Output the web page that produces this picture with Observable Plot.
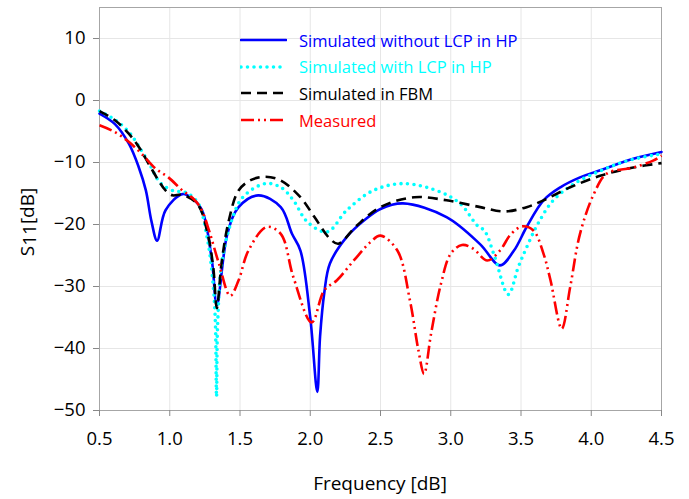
<!DOCTYPE html>
<html><head><meta charset="utf-8">
<script src="https://cdn.jsdelivr.net/npm/d3@7"></script>
<script src="https://cdn.jsdelivr.net/npm/@observablehq/plot@0.6"></script>
<style>
body{margin:0;background:#fff;}
#wrap{position:relative;width:689px;height:499px;font-family:"Open Sans",sans-serif;}
#legend{position:absolute;left:240px;top:27px;}
.row{display:flex;align-items:center;height:26.6px;font-size:16.5px;white-space:nowrap;}
.row svg{margin-right:12px;}
</style></head><body><div id="wrap"><div id="legend"></div></div>
<script>
// ---- data ----
const xTicks = [0.5, 1.0, 1.5, 2.0, 2.5, 3.0, 3.5, 4.0, 4.5];
const yTicks = [-50, -40, -30, -20, -10, 0, 10];

const freqNoLCP = [0.5, 0.61, 0.71, 0.78, 0.83, 0.87, 0.91, 0.97, 1.09, 1.16, 1.23, 1.3, 1.335, 1.41, 1.49, 1.63, 1.79, 1.87, 1.93, 2.0, 2.05, 2.07, 2.1, 2.14, 2.26, 2.38, 2.5, 2.66, 2.97, 3.21, 3.35, 3.45, 3.54, 3.66, 3.78, 3.92, 4.07, 4.3, 4.5];
const s11NoLCP  = [-2.1, -3.8, -7.0, -10.8, -14.5, -19.5, -22.6, -17.7, -15.1, -15.8, -17.7, -25.8, -33.0, -21.5, -17.2, -15.3, -17.2, -21.5, -24.2, -35.0, -47.0, -38.0, -31.0, -26.3, -22.0, -19.4, -17.5, -16.6, -18.8, -23.2, -26.6, -24.2, -20.4, -16.1, -14.0, -12.4, -11.2, -9.4, -8.3];

const freqLCP = [0.5, 0.61, 0.71, 0.78, 0.85, 0.93, 1.03, 1.11, 1.2, 1.27, 1.31, 1.325, 1.333, 1.341, 1.37, 1.44, 1.52, 1.68, 1.79, 1.88, 1.98, 2.12, 2.26, 2.45, 2.67, 2.93, 3.07, 3.19, 3.24, 3.31, 3.41, 3.48, 3.54, 3.62, 3.73, 3.88, 4.07, 4.26, 4.5];
const s11LCP  = [-1.7, -3.1, -5.1, -7.4, -10.0, -13.2, -14.6, -14.8, -16.5, -22.6, -30.0, -36.0, -47.8, -36.0, -26.3, -19.4, -15.6, -13.4, -14.0, -16.1, -19.6, -21.2, -17.7, -14.5, -13.4, -14.8, -16.7, -20.2, -21.0, -25.0, -31.3, -26.9, -23.7, -19.9, -16.1, -13.4, -11.3, -9.7, -8.6];

const freqFBM = [0.5, 0.61, 0.71, 0.78, 0.85, 0.92, 0.97, 1.02, 1.09, 1.2, 1.27, 1.31, 1.335, 1.37, 1.42, 1.49, 1.58, 1.68, 1.79, 1.93, 2.03, 2.14, 2.2, 2.33, 2.5, 2.74, 2.97, 3.21, 3.38, 3.54, 3.66, 3.85, 4.07, 4.3, 4.5];
const s11FBM  = [-1.7, -3.2, -5.4, -7.5, -10.2, -12.9, -14.5, -15.3, -15.2, -16.8, -21.5, -27.0, -33.5, -26.0, -19.4, -14.5, -12.8, -12.3, -12.9, -15.6, -18.8, -22.3, -23.1, -20.2, -17.2, -15.6, -16.1, -17.2, -17.9, -17.2, -16.1, -14.0, -12.1, -10.8, -10.1];

const freqMeas = [0.5, 0.61, 0.71, 0.8, 0.9, 0.99, 1.09, 1.18, 1.23, 1.28, 1.35, 1.43, 1.49, 1.56, 1.69, 1.79, 1.88, 2.01, 2.1, 2.19, 2.31, 2.43, 2.5, 2.62, 2.71, 2.77, 2.81, 2.86, 2.93, 3.0, 3.08, 3.16, 3.26, 3.35, 3.43, 3.51, 3.59, 3.66, 3.71, 3.79, 3.85, 3.92, 4.02, 4.11, 4.3, 4.44, 4.5];
const s11Meas  = [-4.0, -5.1, -6.7, -8.6, -11.0, -12.4, -14.5, -16.1, -17.8, -21.0, -26.3, -31.5, -29.0, -24.2, -20.4, -21.5, -28.5, -35.8, -30.6, -29.0, -25.8, -22.8, -21.8, -24.2, -32.3, -40.3, -44.1, -37.6, -29.6, -24.7, -23.3, -23.9, -25.8, -24.2, -21.5, -20.3, -21.0, -24.7, -29.0, -36.8, -30.1, -21.5, -15.0, -11.8, -10.8, -9.7, -8.9];

const seriesNames = ["Simulated without LCP in HP", "Simulated with LCP in HP", "Simulated in FBM", "Measured"];
const seriesColors = ["#0000ff", "#00ffff", "#000000", "#ff0000"];

// ---- build ----
const series = [
  {freq: freqNoLCP, s11: s11NoLCP, width: 2.6, dash: null, cap: "round"},
  {freq: freqLCP, s11: s11LCP, width: 3.6, dash: "0,6.5", cap: "round"},
  {freq: freqFBM, s11: s11FBM, width: 2.6, dash: "10,6", cap: "butt"},
  {freq: freqMeas, s11: s11Meas, width: 2.6, dash: "13,4,2,4,2,4", cap: "butt"}
].map((s, i) => ({...s, name: seriesNames[i], color: seriesColors[i],
  rows: s.freq.map((f, j) => ({f, v: s.s11[j]}))}));

const chart = Plot.plot({
  width: 689, height: 499,
  marginLeft: 99, marginRight: 28, marginTop: 7, marginBottom: 89,
  style: {fontFamily: "'Open Sans', sans-serif", fontSize: "18.5px", color: "#000", background: "#fff"},
  x: {domain: [0.5, 4.5], label: null},
  y: {domain: [-50, 15], label: null},
  marks: [
    Plot.gridX(xTicks, {stroke: "#e6e6e6", strokeOpacity: 1}),
    Plot.gridY(yTicks, {stroke: "#e6e6e6", strokeOpacity: 1}),
    Plot.frame({stroke: "#a6a6a6"}),
    Plot.axisX(xTicks, {tickFormat: d3.format(".1f"), tickSize: 6, tickPadding: 15, stroke: "#888", label: null}),
    Plot.axisY(yTicks, {tickSize: 6, tickPadding: 8, stroke: "#888", label: null}),
    ...series.map(s => Plot.line(s.rows, {x: "f", y: "v", stroke: s.color, strokeWidth: s.width,
      strokeDasharray: s.dash, strokeLinecap: s.cap, strokeLinejoin: "round", curve: "catmull-rom"}))
  ]
});

const wrap = document.getElementById("wrap");
wrap.insertBefore(chart, wrap.firstChild);
const svg = d3.select(chart);

// x-axis title
svg.append("text")
  .attr("x", 380).attr("y", 490)
  .attr("text-anchor", "middle")
  .attr("font-size", 19)
  .attr("fill", "#000")
  .text("Frequency [dB]");

// y-axis label with subscript
const yl = svg.append("text")
  .attr("transform", "translate(34,222) rotate(-90)")
  .attr("text-anchor", "middle")
  .attr("font-size", 19)
  .attr("fill", "#000");
yl.append("tspan").text("S");
yl.append("tspan").attr("dy", 2).text("11");
yl.append("tspan").attr("dy", -2).text("[dB]");

// legend (inside plot, top)
const leg = d3.select("#legend");
series.forEach(s => {
  const row = leg.append("div").attr("class", "row");
  const sw = row.append("svg").attr("width", 47).attr("height", 10);
  sw.append("line").attr("x1", 1).attr("x2", 46).attr("y1", 5).attr("y2", 5)
    .attr("stroke", s.color).attr("stroke-width", s.width)
    .attr("stroke-dasharray", s.dash).attr("stroke-linecap", s.cap);
  row.append("span").style("color", s.color).text(s.name);
});
</script></body></html>
